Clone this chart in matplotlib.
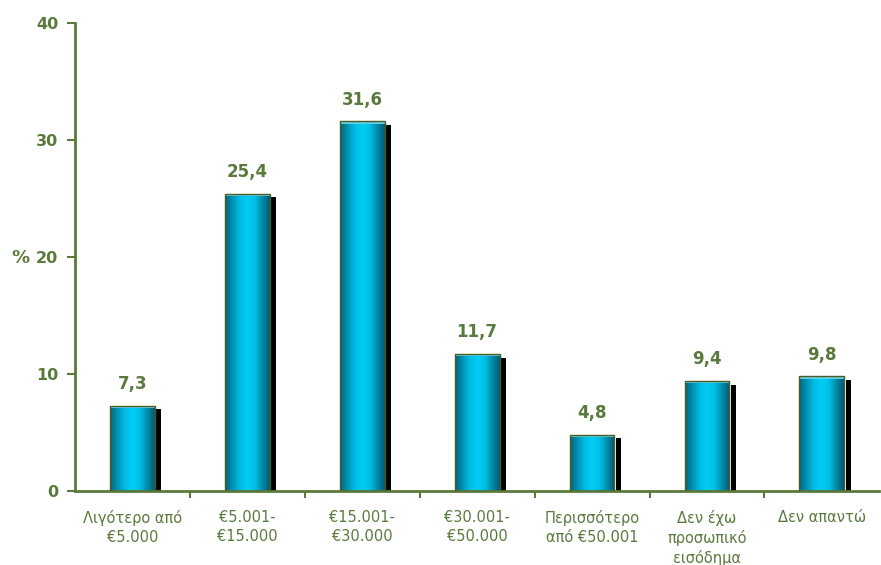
import matplotlib.pyplot as plt
import numpy as np
from matplotlib.colors import LinearSegmentedColormap
from matplotlib.patches import Rectangle

plt.rcParams['font.family'] = ['DejaVu Sans']

categories = ["Λιγότερο από\n€5.000", "€5.001-\n€15.000", "€15.001-\n€30.000",
              "€30.001-\n€50.000", "Περισσότερο\nαπό €50.001",
              "Δεν έχω\nπροσωπικό\nεισόδημα", "Δεν απαντώ"]
values = [7.3, 25.4, 31.6, 11.7, 4.8, 9.4, 9.8]
labels = ["7,3", "25,4", "31,6", "11,7", "4,8", "9,4", "9,8"]

green = "#5a7a3c"
edge = "#4f5a1e"

# cylinder-like shading across each bar
cyl = LinearSegmentedColormap.from_list(
    "cyl", ["#00657e", "#0092b4", "#00bde6", "#00cdf5", "#00bfe6", "#0089a8", "#005a72"])
grad = np.linspace(0, 1, 256).reshape(1, -1)

fig = plt.figure(figsize=(8.81, 5.65), dpi=100)
ax = fig.add_axes([0.0851, 0.131, 0.913, 0.828])

x = np.arange(len(values))
w = 0.39
for xi, v, lab in zip(x, values, labels):
    left = xi - w / 2
    # drop shadow
    ax.add_patch(Rectangle((left + w + 0.012, 0), 0.045, v - 0.3,
                           facecolor="black", edgecolor="none", zorder=1))
    ax.add_patch(Rectangle((left + w, 0), 0.012, v - 0.3,
                           facecolor="white", edgecolor="none", zorder=1.5))
    im = ax.imshow(grad, cmap=cyl, aspect="auto",
                   extent=(left, left + w, 0, v), zorder=2)
    rect = Rectangle((left, 0), w, v, facecolor="none", edgecolor=edge,
                     linewidth=1.0, zorder=3)
    ax.add_patch(rect)
    im.set_clip_path(rect)
    # lighter top rim
    ax.add_patch(Rectangle((left, v - 0.2), w, 0.2, facecolor="#5fd0ec",
                           edgecolor="none", zorder=2.5))
    ax.text(xi, v + 1.1, lab, ha="center", va="bottom", fontsize=12,
            fontweight="bold", color=green)

ax.set_xlim(-0.5, len(values) - 0.5)
ax.set_ylim(0, 40)
ax.set_yticks([0, 10, 20, 30, 40])
ax.set_xticks(x)
ax.set_xticklabels(categories, fontsize=10.5, color=green, linespacing=1.3)
ax.set_xticks(np.arange(0.5, len(values) - 1, 1), minor=True)
ax.tick_params(axis="x", which="major", length=0, pad=14)
ax.tick_params(axis="x", which="minor", length=5, width=1.5, color=green, direction="out")
ax.tick_params(axis="y", length=6, width=1.5, color=green, labelcolor=green,
               labelsize=11.5, pad=6)
for t in ax.get_yticklabels():
    t.set_fontweight("bold")

for s in ["top", "right"]:
    ax.spines[s].set_visible(False)
for s in ["left", "bottom"]:
    ax.spines[s].set_color(green)
    ax.spines[s].set_linewidth(2)

fig.text(20 / 881, 1 - 258 / 565, "%", ha="center", va="center", fontsize=13,
         fontweight="bold", color=green)

fig.savefig("out.png", dpi=100)
